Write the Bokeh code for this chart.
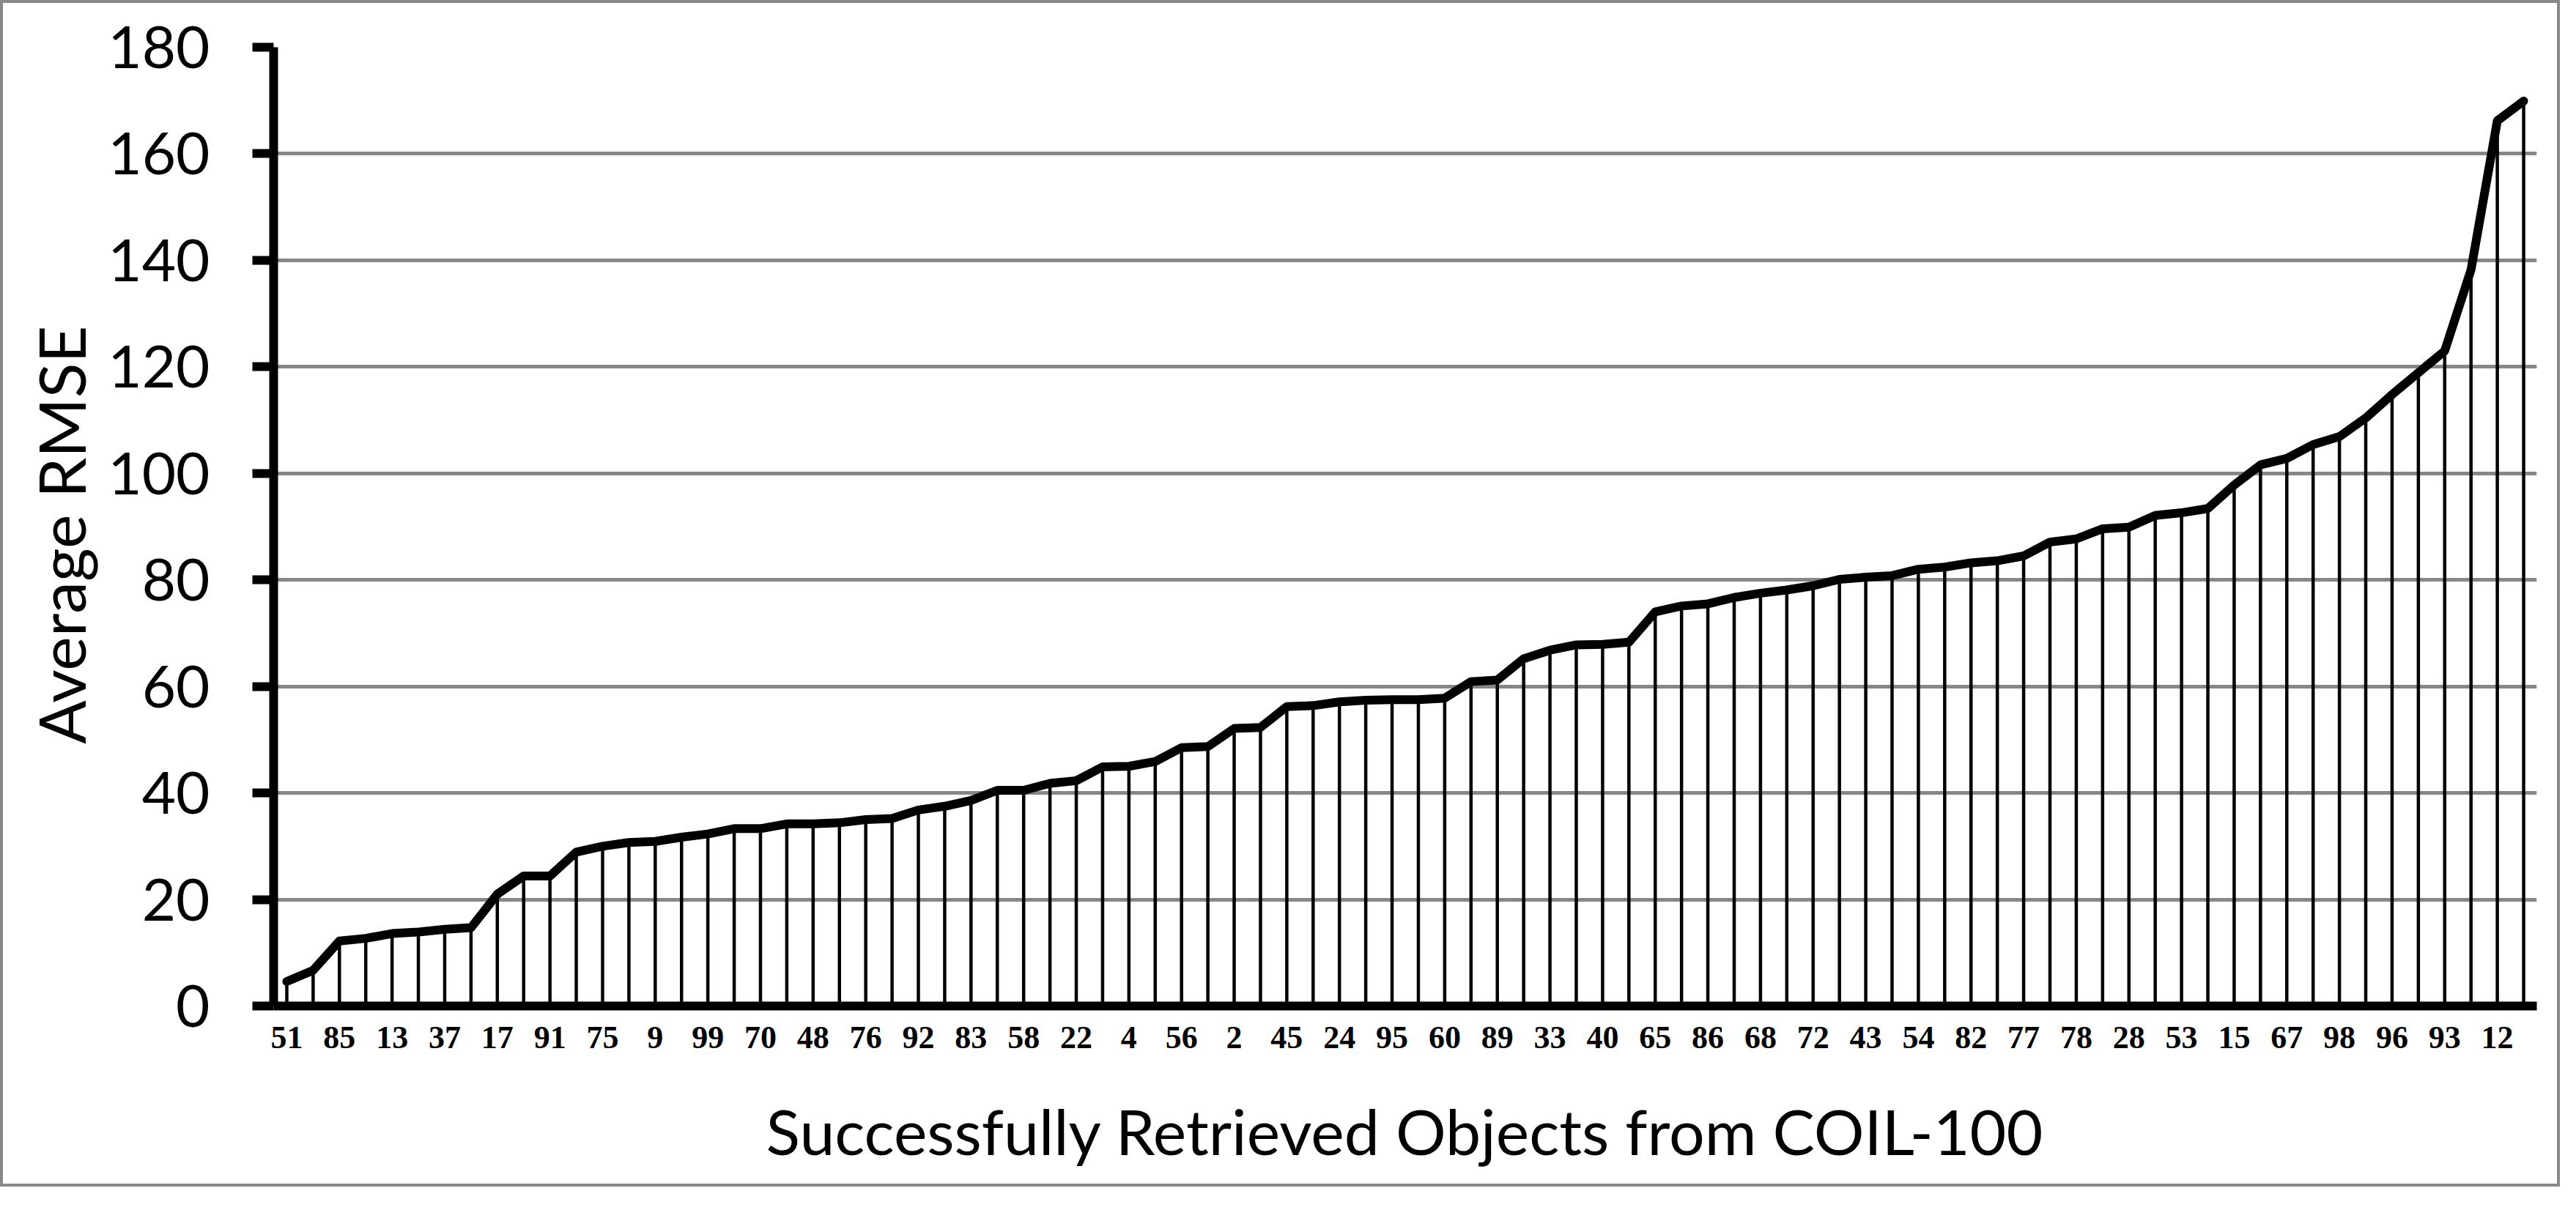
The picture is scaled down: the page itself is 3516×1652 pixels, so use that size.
from bokeh.plotting import figure
from bokeh.models import FixedTicker, Range1d
from bokeh.embed import file_html
from bokeh.resources import INLINE

# Tick labels shown under every other category (object ids from COIL-100)
tick_labels = ["51", "85", "13", "37", "17", "91", "75", "9", "99", "70", "48",
               "76", "92", "83", "58", "22", "4", "56", "2", "45", "24", "95",
               "60", "89", "33", "40", "65", "86", "68", "72", "43", "54", "82",
               "77", "78", "28", "53", "15", "67", "98", "96", "93", "12"]

# Average RMSE per retrieved object (86 objects, sorted ascending)
rmse = [4.6, 6.7, 12.2, 12.7, 13.6, 13.9, 14.4, 14.7, 21.0, 24.4, 24.4,
        28.9, 30.0, 30.7, 30.9, 31.7, 32.3, 33.3, 33.3, 34.2, 34.2, 34.4,
        35.0, 35.2, 36.8, 37.5, 38.6, 40.5, 40.5, 41.8, 42.3, 44.9, 45.0,
        45.9, 48.5, 48.7, 52.1, 52.3, 56.2, 56.4, 57.1, 57.4, 57.5,
        57.5, 57.8, 60.9, 61.2, 65.2, 66.8, 67.8, 67.9, 68.3, 74.0, 75.1,
        75.5, 76.7, 77.5, 78.1, 78.9, 80.1, 80.5, 80.8, 82.0, 82.4,
        83.2, 83.6, 84.5, 87.1, 87.7, 89.6, 89.9, 92.1, 92.6, 93.4, 97.8,
        101.6, 102.8, 105.4, 106.9, 110.4, 114.8, 118.9, 123.0, 138.2,
        166.2, 169.9]

y_ticks = [0, 20, 40, 60, 80, 100, 120, 140, 160, 180]

n = len(rmse)
idx = list(range(n))
label_pos = list(range(0, n, 2))[:len(tick_labels)]

p = figure(width=3494, height=1620,
           x_range=Range1d(-0.5, n - 0.5), y_range=Range1d(0, 180),
           output_backend="svg", toolbar_location=None,
           min_border_left=369, min_border_right=36,
           min_border_top=60, min_border_bottom=251,
           styles={"border": "4px solid #888888"})
p.outline_line_color = None
p.background_fill_color = "white"
p.border_fill_color = "white"

# grid
p.xgrid.grid_line_color = None
p.ygrid.ticker = FixedTicker(ticks=y_ticks)
p.ygrid.grid_line_color = "#878787"
p.ygrid.grid_line_width = 5

# drop lines and the line
p.segment(x0=idx, y0=[0] * n, x1=idx, y1=rmse, line_color="black", line_width=4.5)
p.line(idx, rmse, line_color="black", line_width=12,
       line_join="round", line_cap="round")

# y axis
ya = p.yaxis[0]
ya.ticker = FixedTicker(ticks=y_ticks)
ya.axis_line_width = 12
ya.axis_line_color = "black"
ya.major_tick_line_width = 12
ya.major_tick_in = 0
ya.major_tick_out = 29
ya.minor_tick_line_color = None
ya.major_label_text_font = "Lato"
ya.major_label_text_font_size = "80px"
ya.major_label_text_color = "black"
ya.major_label_standoff = 58
ya.axis_label = "Average  RMSE"
ya.axis_label_text_font = "Lato"
ya.axis_label_text_font_size = "88px"
ya.axis_label_text_font_style = "normal"
ya.axis_label_text_color = "black"
ya.axis_label_standoff = 8

# x axis
xa = p.xaxis[0]
xa.ticker = FixedTicker(ticks=label_pos)
xa.major_label_overrides = {i: lab for i, lab in zip(label_pos, tick_labels)}
xa.axis_line_width = 12
xa.axis_line_color = "black"
xa.major_tick_line_color = None
xa.minor_tick_line_color = None
xa.major_tick_in = 0
xa.major_tick_out = 0
xa.major_label_text_font = "Liberation Serif"
xa.major_label_text_font_style = "bold"
xa.major_label_text_font_size = "44px"
xa.major_label_text_color = "black"
xa.major_label_standoff = 28
xa.axis_label = "Successfully Retrieved Objects from COIL-100"
xa.axis_label_text_font = "Lato"
xa.axis_label_text_font_size = "86px"
xa.axis_label_text_font_style = "normal"
xa.axis_label_text_color = "black"
xa.axis_label_standoff = 58

open("out.html", "w").write(file_html(p, INLINE))
